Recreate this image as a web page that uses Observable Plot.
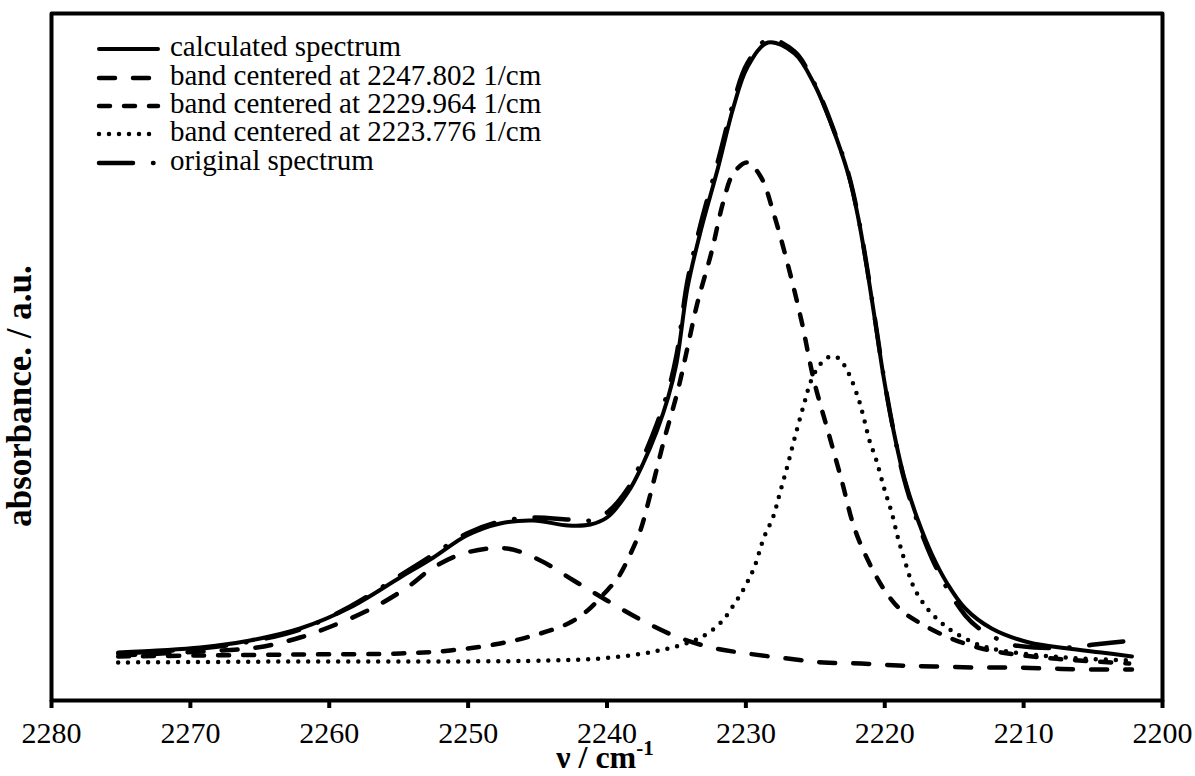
<!DOCTYPE html>
<html><head><meta charset="utf-8">
<script src="https://cdn.jsdelivr.net/npm/d3@7"></script>
<script src="https://cdn.jsdelivr.net/npm/@observablehq/plot@0.6"></script>
<style>
body{margin:0;background:#fff;}
#wrap{position:relative;width:1195px;height:776px;overflow:hidden;background:#fff;}
#wrap svg{position:absolute;left:0;top:0;}
</style></head><body><div id="wrap"></div>
<script>
// x ticks (wavenumber, 1/cm)
const xTicks = [2280, 2270, 2260, 2250, 2240, 2230, 2220, 2210, 2200];

// calculated spectrum
const calcNu  = [2275.2,2269.3,2265.7,2262.1,2258.5,2254.9,2252.5,2250.1,2247.7,2245.3,2242.8,2241.2,2240.0,2238.5,2237.4,2236.4,2235.6,2235.0,2234.2,2233.3,2232.0,2230.9,2229.9,2228.4,2226.5,2225.1,2223.9,2222.6,2221.9,2221.3,2220.7,2220.1,2219.4,2218.6,2217.6,2216.6,2215.5,2214.2,2212.3,2209.6,2206.8,2204.4,2202.2];
const calcAbs = [0.048,0.053,0.060,0.072,0.093,0.123,0.143,0.165,0.177,0.180,0.175,0.176,0.183,0.208,0.237,0.270,0.303,0.337,0.413,0.467,0.533,0.593,0.633,0.658,0.647,0.617,0.578,0.525,0.482,0.434,0.380,0.325,0.272,0.223,0.180,0.146,0.117,0.092,0.072,0.058,0.052,0.048,0.044];

// band centered at 2247.802
const band1Nu  = [2275.1,2269.3,2265.2,2262.1,2259.7,2256.8,2254.4,2252.5,2250.1,2247.2,2244.8,2242.4,2240.0,2237.6,2235.2,2232.5,2229.9,2227.0,2224.4,2221.7,2219.0,2216.4,2213.5,2210.9,2208.2,2205.6,2202.2];
const band1Abs = [0.045,0.049,0.053,0.063,0.075,0.093,0.113,0.133,0.148,0.152,0.140,0.120,0.100,0.081,0.065,0.053,0.047,0.042,0.038,0.037,0.035,0.034,0.033,0.033,0.032,0.031,0.031];

// band centered at 2229.964
const band2Nu  = [2275.2,2269.3,2262.1,2254.9,2251.3,2247.7,2245.3,2242.8,2241.4,2240.2,2239.2,2238.3,2237.6,2236.9,2235.9,2234.9,2234.2,2233.5,2232.5,2231.6,2230.9,2229.9,2228.9,2228.0,2227.0,2226.0,2225.1,2224.1,2223.1,2222.2,2221.2,2220.0,2218.8,2217.4,2215.4,2213.3,2211.6,2208.7,2206.0,2202.4];
const band2Abs = [0.044,0.045,0.046,0.047,0.050,0.057,0.065,0.077,0.090,0.107,0.123,0.147,0.170,0.205,0.260,0.310,0.353,0.397,0.447,0.500,0.527,0.538,0.523,0.487,0.437,0.380,0.320,0.270,0.220,0.173,0.140,0.110,0.090,0.077,0.063,0.053,0.048,0.043,0.040,0.037];

// band centered at 2223.776
const band3Nu  = [2275.2,2262.1,2251.3,2244.1,2240.5,2237.4,2235.6,2234.3,2233.0,2231.8,2230.9,2230.1,2229.4,2228.7,2228.05,2227.6,2227.0,2226.4,2225.8,2225.3,2224.6,2223.9,2223.3,2222.6,2221.9,2221.5,2221.1,2220.6,2220.0,2219.5,2219.0,2218.5,2217.9,2217.0,2216.1,2215.2,2213.3,2211.6,2208.7,2205.8,2202.2];
const band3Abs = [0.038,0.039,0.039,0.040,0.042,0.047,0.052,0.057,0.065,0.078,0.095,0.113,0.133,0.163,0.183,0.205,0.235,0.267,0.297,0.320,0.337,0.344,0.342,0.327,0.302,0.282,0.260,0.240,0.210,0.188,0.160,0.137,0.113,0.093,0.080,0.070,0.056,0.050,0.045,0.042,0.040];

// original spectrum
const origNu  = [2275.2,2269.3,2265.7,2262.1,2258.5,2254.9,2252.5,2250.1,2247.7,2245.3,2242.8,2241.2,2240.0,2238.5,2237.4,2236.4,2235.6,2235.0,2234.2,2233.3,2232.0,2230.9,2229.9,2228.4,2226.5,2225.1,2223.9,2222.6,2221.9,2221.3,2220.7,2220.1,2219.4,2218.6,2217.6,2216.6,2215.5,2214.2,2213.3,2212.1,2210.9,2209.2,2206.6,2204.9,2202.2];
const origAbs = [0.047,0.052,0.059,0.071,0.094,0.125,0.146,0.167,0.179,0.183,0.181,0.180,0.188,0.212,0.243,0.277,0.310,0.345,0.420,0.474,0.540,0.598,0.637,0.661,0.649,0.618,0.579,0.526,0.483,0.435,0.381,0.326,0.272,0.221,0.177,0.142,0.112,0.085,0.073,0.063,0.056,0.053,0.053,0.056,0.060];

const seriesNames = ["calculated spectrum","band centered at 2247.802 1/cm","band centered at 2229.964 1/cm","band centered at 2223.776 1/cm","original spectrum"];

const toRows = (nu, ab) => nu.map((v, i) => ({nu: v, abs: ab[i]})).sort((a, b) => b.nu - a.nu);
const calc = toRows(calcNu, calcAbs), b1 = toRows(band1Nu, band1Abs), b2 = toRows(band2Nu, band2Abs), b3 = toRows(band3Nu, band3Abs), orig = toRows(origNu, origAbs);

const styles = [
  {dash: null, w: 4},
  {dash: "16,18", w: 4.5},
  {dash: "11,14", w: 4.5},
  {dash: "0,10", w: 4.5},
  {dash: "34,20,0.5,20", w: 4.5}
];
const datasets = [calc, b1, b2, b3, orig];
const FONT = "'Liberation Serif','Times New Roman',Times,serif";

const lineMarks = datasets.map((d, i) => Plot.line(d, {
  x: "nu", y: "abs", stroke: "#000", strokeWidth: styles[i].w,
  strokeDasharray: styles[i].dash || undefined, strokeLinecap: "round", strokeLinejoin: "round",
  curve: "catmull-rom"
}));

const chart = Plot.plot({
  width: 1195, height: 776,
  marginLeft: 51, marginRight: 33, marginTop: 13, marginBottom: 76,
  x: {domain: [2280, 2200], label: null},
  y: {domain: [0, 0.687], axis: null},
  style: {fontFamily: FONT, fontSize: "29px", color: "#000", background: "#fff", overflow: "visible"},
  marks: [
    Plot.axisX({ticks: xTicks, tickSize: 8, tickPadding: 13, strokeWidth: 4, fontSize: 30, fontFamily: FONT, label: null, tickFormat: d => String(d)}),
    lineMarks[4], lineMarks[1], lineMarks[2], lineMarks[3], lineMarks[0],
    Plot.frame({stroke: "#000", strokeWidth: 4, strokeLinejoin: "round"})
  ]
});
const wrap = document.getElementById("wrap");
wrap.appendChild(chart);

// overlay: legend and axis titles
const ov = d3.select(wrap).append("svg").attr("width", 1195).attr("height", 776)
  .style("font-family", FONT).style("pointer-events", "none");
const rowY = [49, 78, 106, 134, 163];
seriesNames.forEach((name, i) => {
  const s = styles[i];
  ov.append("line").attr("x1", 99).attr("x2", 158).attr("y1", rowY[i]).attr("y2", rowY[i])
    .attr("stroke", "#000").attr("stroke-width", s.w).attr("stroke-linecap", "round")
    .attr("stroke-dasharray", s.dash);
  ov.append("text").attr("x", 170).attr("y", rowY[i] + 7).attr("font-size", 29).attr("fill", "#000").text(name);
});
// y title
ov.append("text").attr("transform", "translate(31,396) rotate(-90)").attr("text-anchor", "middle")
  .attr("font-size", 35).attr("font-weight", "bold").attr("fill", "#000").text("absorbance. / a.u.");
// x title with superscript
const xt = ov.append("text").attr("x", 605).attr("y", 768).attr("text-anchor", "middle")
  .attr("font-size", 32).attr("font-weight", "bold").attr("fill", "#000");
xt.append("tspan").text("ν / cm");
xt.append("tspan").attr("dy", -13).attr("font-size", 21).text("-1");
</script></body></html>
